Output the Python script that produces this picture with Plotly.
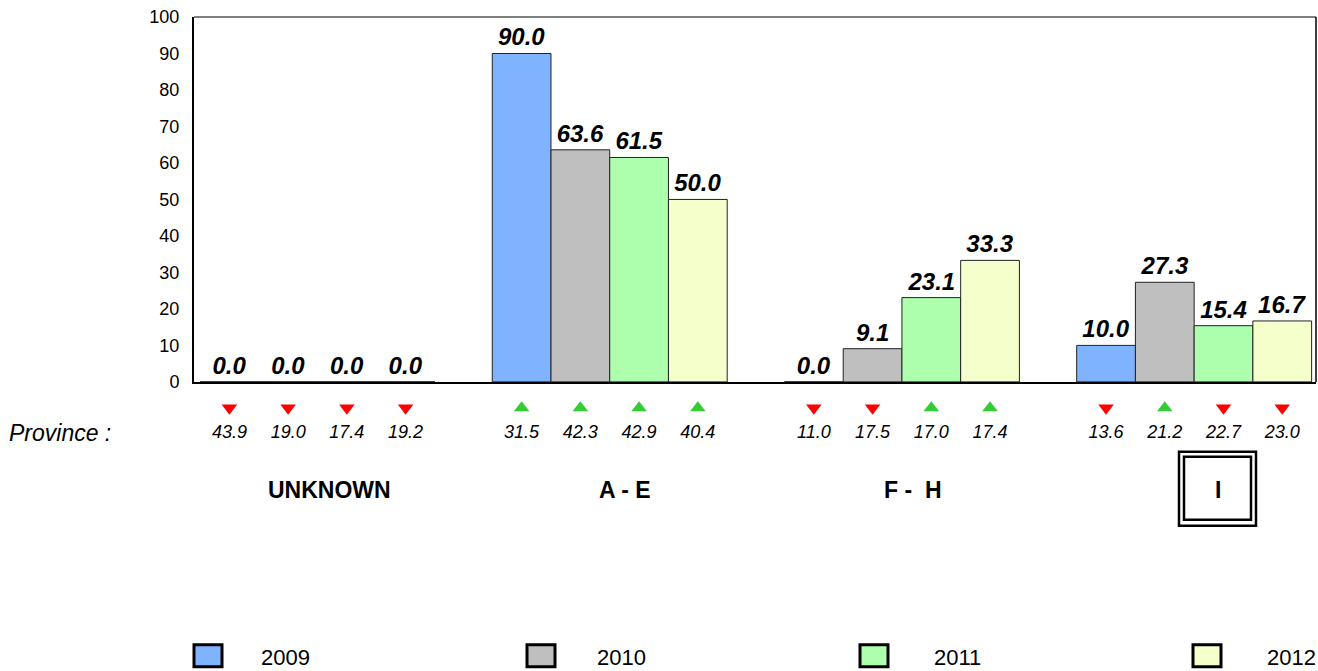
import plotly.graph_objects as go

# ---------------- data ----------------
categories = ["UNKNOWN", "A - E", "F -  H", "I"]
years = ["2009", "2010", "2011", "2012"]
values_2009 = [0.0, 90.0, 0.0, 10.0]
values_2010 = [0.0, 63.6, 9.1, 27.3]
values_2011 = [0.0, 61.5, 23.1, 15.4]
values_2012 = [0.0, 50.0, 33.3, 16.7]
province_2009 = [43.9, 31.5, 11.0, 13.6]
province_2010 = [19.0, 42.3, 17.5, 21.2]
province_2011 = [17.4, 42.9, 17.0, 22.7]
province_2012 = [19.2, 40.4, 17.4, 23.0]
province_label = "Province :"
highlight_category = "I"
y_ticks = [0, 10, 20, 30, 40, 50, 60, 70, 80, 90, 100]

series_values = [values_2009, values_2010, values_2011, values_2012]
series_province = [province_2009, province_2010, province_2011, province_2012]

# ---------------- style ----------------
W, H = 1318, 671
ML, MR, MT, MB = 194, 2, 17, 0
PW, PH = W - ML - MR, H - MT - MB
FONT = "Liberation Sans, Arial, sans-serif"
bar_colors = ["#80B3FF", "#BFBFBF", "#ADFFAD", "#F4FFCC"]
up_color, down_color = "#33CC33", "#FF0000"
VK = 0.985  # vertical compensation observed in the rendered page


def px_x(p):
    return (p - ML) / PW


def vy(p):
    return MT + (p - MT) / VK


def px_y(p):
    return (H - MB - vy(p)) / PH


y_main_bottom_px = 382
y2_top_px = 389.8
d_main = px_y(y_main_bottom_px)
d2 = px_y(y2_top_px)
H2 = d2 * PH

fig = go.Figure()

for yr, vals, col in zip(years, series_values, bar_colors):
    fig.add_trace(go.Bar(
        x=categories, y=vals, name=yr, offsetgroup=yr,
        marker=dict(color=col, line=dict(color="#222222", width=1)),
        texttemplate="%{y:.1f}", textposition="outside",
        textfont=dict(family=FONT, size=24, color="black", weight="bold", style="italic"),
        constraintext="none", cliponaxis=False, showlegend=False,
        xaxis="x", yaxis="y",
    ))

tri_y = vy(408) - vy(y2_top_px)
num_y = vy(434) - vy(y2_top_px)
for yr, vals, prov in zip(years, series_values, series_province):
    up = [v > p for v, p in zip(vals, prov)]
    fig.add_trace(go.Scatter(
        x=categories, y=[tri_y] * len(categories), mode="markers", offsetgroup=yr,
        marker=dict(symbol=["triangle-up" if u else "triangle-down" for u in up],
                    color=[up_color if u else down_color for u in up],
                    size=13.5, line=dict(width=0)),
        showlegend=False, cliponaxis=False, xaxis="x", yaxis="y2", hoverinfo="skip",
    ))
    fig.add_trace(go.Scatter(
        x=categories, y=[num_y] * len(categories), mode="text", offsetgroup=yr,
        text=[f"{p:.1f}" for p in prov],
        textfont=dict(family=FONT, size=18, color="black", style="italic"),
        showlegend=False, cliponaxis=False, xaxis="x", yaxis="y2", hoverinfo="skip",
    ))

annotations = []
shapes = []

# group labels
group_label_px = [329, 625, 913, 1218]
for cat, gx in zip(categories, group_label_px):
    annotations.append(dict(
        x=px_x(gx), y=px_y(490), xref="paper", yref="paper", text=cat,
        showarrow=False, xanchor="center", yanchor="middle",
        font=dict(family=FONT, size=23, color="black", weight="bold"),
    ))

annotations.append(dict(
    x=px_x(7), y=px_y(433), xref="paper", yref="paper", text=province_label,
    showarrow=False, xanchor="left", yanchor="middle",
    font=dict(family=FONT, size=23, color="black", style="italic"),
))

# double box around highlighted category
if highlight_category in categories:
    for (x0, y0, x1, y1) in [(1179, 452, 1256, 526), (1184, 457, 1251, 520)]:
        shapes.append(dict(type="rect", xref="paper", yref="paper",
                           x0=px_x(x0), x1=px_x(x1), y0=px_y(y0), y1=px_y(y1),
                           line=dict(color="black", width=2.5)))

# plot frame top (gray) and right (black)
shapes.append(dict(type="line", xref="paper", yref="paper", x0=0, x1=1, y0=1, y1=1,
                   line=dict(color="#808080", width=2)))
shapes.append(dict(type="line", xref="paper", yref="paper", x0=1, x1=1, y0=d_main, y1=1,
                   line=dict(color="black", width=1.5)))

# custom legend
legend_box_px = [194, 527, 860, 1193]
legend_text_px = [259, 595, 932, 1265]
for yr, col, bx, tx in zip(years, bar_colors, legend_box_px, legend_text_px):
    shapes.append(dict(type="rect", xref="paper", yref="paper",
                       x0=px_x(bx), x1=px_x(bx + 28), y0=px_y(645), y1=px_y(667),
                       fillcolor=col, line=dict(color="black", width=3)))
    annotations.append(dict(
        x=px_x(tx), y=px_y(658), xref="paper", yref="paper", text=yr,
        showarrow=False, xanchor="left", yanchor="middle",
        font=dict(family=FONT, size=22, color="black"),
    ))

fig.update_layout(
    width=W, height=H,
    margin=dict(l=ML, r=MR, t=MT, b=MB, pad=0),
    paper_bgcolor="white", plot_bgcolor="white",
    barmode="group", bargap=0.196, bargroupgap=0,
    scattermode="group", scattergap=0.196,
    showlegend=False,
    xaxis=dict(type="category", range=[-0.4227, 3.417], showticklabels=False,
               showgrid=False, zeroline=False, showline=True, linecolor="black",
               linewidth=2, ticks="", anchor="y", fixedrange=True),
    yaxis=dict(domain=[d_main, 1], range=[0, 100], tickvals=y_ticks,
               showgrid=False, zeroline=False, showline=True, linecolor="black",
               linewidth=2, ticks="", ticklabelstandoff=9,
               tickfont=dict(family=FONT, size=18, color="black"), fixedrange=True),
    yaxis2=dict(domain=[0, d2], range=[H2, 0], visible=False, anchor="x",
                fixedrange=True),
    annotations=annotations,
    shapes=shapes,
    font=dict(family=FONT),
)

fig.write_html(
    "out.html",
    config={"displayModeBar": False},
    post_script="document.body.style.margin='0';document.body.style.overflow='hidden';",
)
